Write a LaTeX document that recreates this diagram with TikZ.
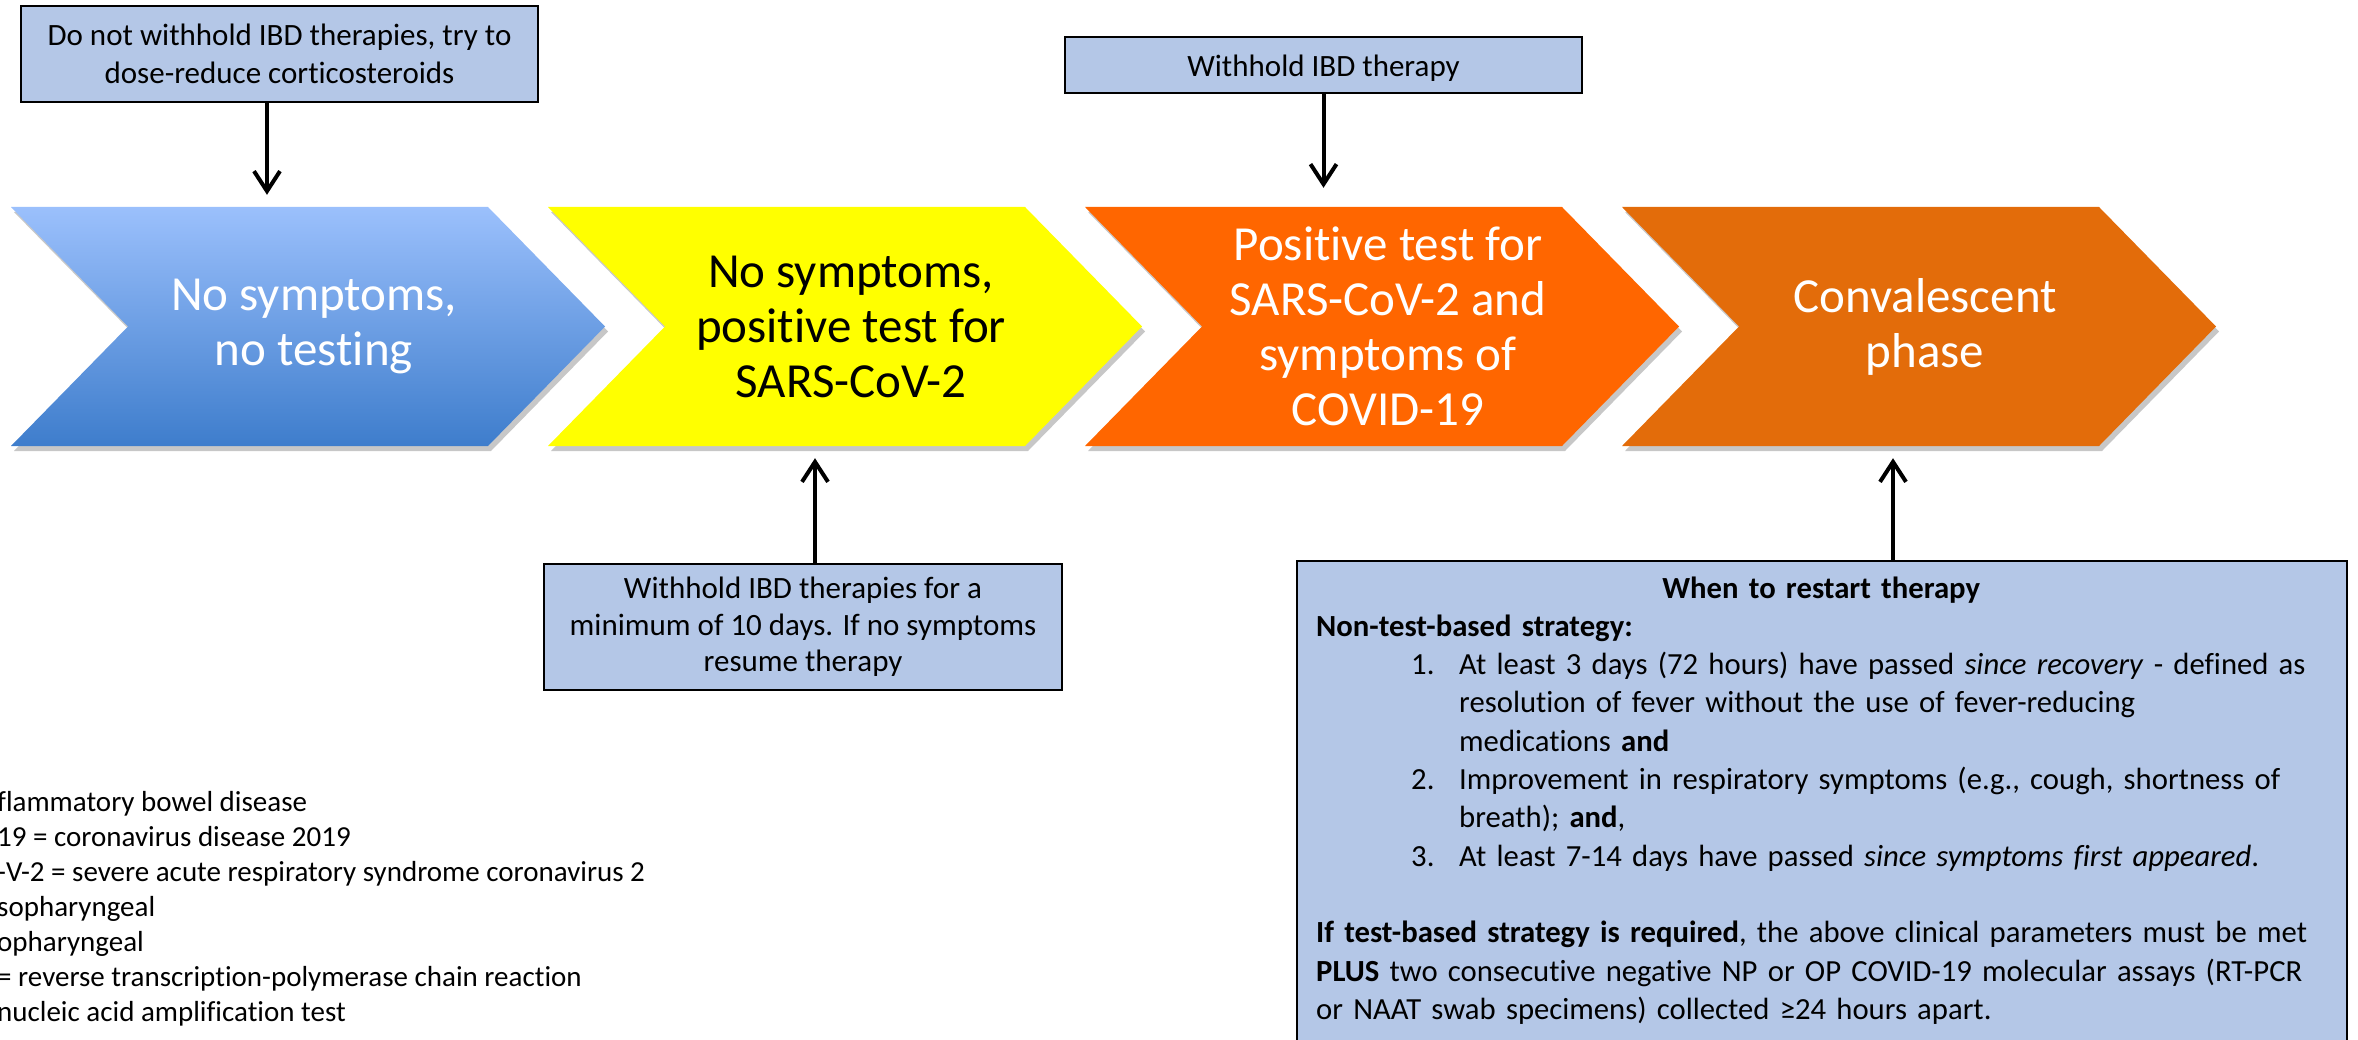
\documentclass[tikz,border=0pt]{standalone}
\usepackage{fontspec}
\setmainfont{Carlito}[Ligatures={NoCommon}]
\usetikzlibrary{arrows.meta,backgrounds,calc}

\definecolor{boxblue}{RGB}{180,199,231}
\definecolor{chevtop}{RGB}{155,192,252}
\definecolor{chevbot}{RGB}{62,125,204}
\definecolor{chevyellow}{RGB}{255,255,0}
\definecolor{chevorange}{RGB}{255,102,0}
\definecolor{chevbrown}{RGB}{227,108,10}

\tikzset{
  infobox/.style={draw=black, line width=2pt, fill=boxblue, align=center,
    font=\fontsize{31}{37.8}\selectfont, inner sep=0pt},
  chev/.style={minimum width=594pt, minimum height=239pt, inner sep=0pt,
    align=center, font=\fontsize{49}{55}\selectfont},
  arr/.style={line width=4pt, -{Straight Barb[length=20pt,width=26pt]}},
  chevshadow/.style={fill=black, opacity=0.22},
}

\begin{document}
\begin{tikzpicture}[x=1pt,y=-1pt]
\useasboundingbox (0,0) rectangle (2358,1040);
\clip (0,0) rectangle (2358,1040);

% chevron nodes (text)
\node[chev, text=white] (c1) at (314,326.5) {No symptoms,\\no testing};
\node[chev, text=black] (c2) at (851,326.5) {No symptoms,\\positive test for\\SARS-CoV-2};
\node[chev, text=white] (c3) at (1388,326.5) {Positive test for\\SARS-CoV-2 and\\symptoms of\\COVID-19};
\node[chev, text=white] (c4) at (1925,326.5) {Convalescent\\phase};

\begin{scope}[on background layer]
  \foreach \n in {c1,c2,c3,c4}{
    \fill[chevshadow] ($(\n.center)+(-300,-114.5)$) -- ++(477,0) -- ++(117,119.5)
      -- ++(-117,119.5) -- ++(-477,0) -- ++(117,-119.5) -- cycle;
  }
  \shade[top color=chevtop, bottom color=chevbot] ($(c1.center)+(-303,-119.5)$) -- ++(477,0) -- ++(117,119.5)
      -- ++(-117,119.5) -- ++(-477,0) -- ++(117,-119.5) -- cycle;
  \fill[chevyellow] ($(c2.center)+(-303,-119.5)$) -- ++(477,0) -- ++(117,119.5)
      -- ++(-117,119.5) -- ++(-477,0) -- ++(117,-119.5) -- cycle;
  \fill[chevorange] ($(c3.center)+(-303,-119.5)$) -- ++(477,0) -- ++(117,119.5)
      -- ++(-117,119.5) -- ++(-477,0) -- ++(117,-119.5) -- cycle;
  \fill[chevbrown] ($(c4.center)+(-303,-119.5)$) -- ++(477,0) -- ++(117,119.5)
      -- ++(-117,119.5) -- ++(-477,0) -- ++(117,-119.5) -- cycle;
\end{scope}

% info boxes
\node[infobox, minimum width=517pt, minimum height=96pt] (b1) at (279.5,54)
  {Do not withhold IBD therapies, try to\\dose-reduce corticosteroids};
\node[infobox, minimum width=517pt, minimum height=56pt, text height=24pt, text depth=0pt] (b2) at (1323.5,65)
  {Withhold IBD therapy};
\node[infobox, minimum width=518pt, minimum height=126pt, font=\fontsize{31}{36.5}\selectfont] (b3) at (803,627)
  {Withhold IBD therapies for a\\minimum of 10 days. If no symptoms\\resume therapy};
\node[infobox, anchor=north west, minimum width=1050pt, minimum height=520pt] (rb) at (1296,560) {};

\node[anchor=base west, text width=1010pt, inner sep=0pt, align=left,
      font=\fontsize{30.7}{38.3}\selectfont] (rt) at (1316,598) {%
{\centering\bfseries When to restart therapy\par}
\textbf{Non-test-based strategy:}\par
{\leftskip=143pt
\leavevmode\llap{\makebox[48pt][l]{1.}}At least 3 days (72 hours) have passed \textit{since recovery} - defined as\\
resolution of fever without the use of fever-reducing\\
medications \textbf{and}\par
\leavevmode\llap{\makebox[48pt][l]{2.}}Improvement in respiratory symptoms (e.g., cough, shortness of\\
breath); \textbf{and},\par
\leavevmode\llap{\makebox[48pt][l]{3.}}At least 7-14 days have passed \textit{since symptoms first appeared}.\par}
\mbox{}\par
\textbf{If test-based strategy is required}, the above clinical parameters must be met\\
\textbf{PLUS} two consecutive negative NP or OP COVID-19 molecular assays (RT-PCR\\
or NAAT swab specimens) collected ≥24 hours apart.};

% legend (cut at the left edge)
\node[anchor=north west, inner sep=0pt, align=left, font=\fontsize{29}{35}\selectfont] (lg) at (-3,791)
  {flammatory bowel disease\\19 = coronavirus disease 2019\\-V-2 = severe acute respiratory syndrome coronavirus 2\\sopharyngeal\\opharyngeal\\= reverse transcription-polymerase chain reaction\\nucleic acid amplification test};

% arrows
\coordinate (a1) at (267,0);
\coordinate (a3) at (815,0);
\coordinate (a4) at (1893,0);
\draw[arr, shorten >=12pt] (b1.south -| a1) -- (c1.north -| a1);
\draw[arr, shorten >=19pt] (b2.south) -- (b2.south |- c3.north);
\draw[arr, shorten >=12pt] (b3.north -| a3) -- (c2.south -| a3);
\draw[arr, shorten >=12pt] (rb.north -| a4) -- (c4.south -| a4);
\end{tikzpicture}
\end{document}
